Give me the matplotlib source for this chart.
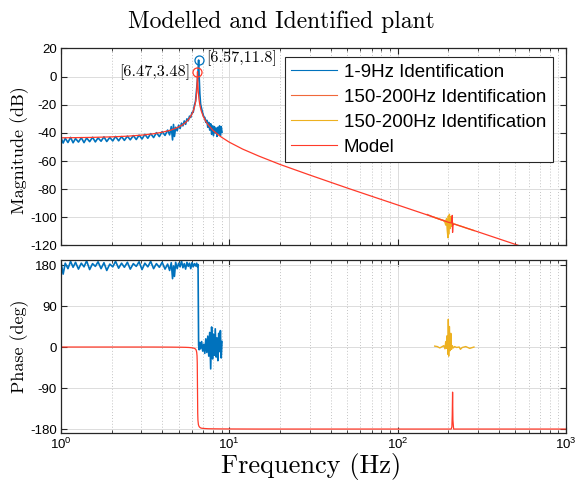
import matplotlib
matplotlib.use("Agg")
import matplotlib.pyplot as plt
from matplotlib.ticker import LogLocator, NullFormatter

plt.rcParams['font.family'] = ['Liberation Sans', 'DejaVu Sans']
plt.rcParams['axes.unicode_minus'] = False
plt.rcParams['mathtext.fontset'] = 'custom'
plt.rcParams['mathtext.rm'] = 'Liberation Sans'
plt.rcParams['mathtext.it'] = 'Liberation Sans:italic'

# 1-9 Hz identification
id_freq = [1.00, 1.03, 1.06, 1.1, 1.14, 1.18, 1.22, 1.27, 1.32, 1.37,
           1.42, 1.48, 1.54, 1.6, 1.66, 1.73, 1.8, 1.87, 1.95, 2.03,
           2.11, 2.2, 2.29, 2.38, 2.48, 2.58, 2.69, 2.8, 2.91, 3.03,
           3.15, 3.28, 3.41, 3.55, 3.69, 3.84, 3.99, 4.15, 4.3, 4.42,
           4.52, 4.6, 4.66, 4.72, 4.8, 4.9, 5.0, 5.1, 5.2, 5.3,
           5.4, 5.5, 5.6, 5.7, 5.8, 5.9, 6.0, 6.1, 6.2, 6.3,
           6.4, 6.46, 6.52, 6.57, 6.62, 6.68, 6.75, 6.85, 6.95, 7.05,
           7.15, 7.25, 7.35, 7.45, 7.55, 7.65, 7.75, 7.85, 7.95, 8.05,
           8.15, 8.25, 8.35, 8.45, 8.55, 8.65, 8.75, 8.85, 8.95, 9.05]
id_mag = [-43.5, -47.2, -43.8, -46.8, -43.2, -47.0, -44.0, -46.5, -43.4, -46.9,
          -43.6, -46.2, -43.1, -46.4, -43.5, -45.9, -42.8, -46.1, -43.2, -45.7,
          -42.5, -45.6, -42.6, -45.3, -42.3, -44.9, -41.9, -44.7, -41.6, -44.3,
          -41.0, -43.8, -40.5, -43.3, -39.8, -42.6, -39.1, -41.8, -38.0, -41.4,
          -35.5, -45.0, -34.0, -42.5, -36.0, -38.5, -34.5, -36.9, -33.1, -35.0,
          -31.5, -33.9, -30.0, -31.4, -28.1, -29.0, -25.5, -25.4, -20.5, -17.5,
          -8.5, -3.0, 4.0, 11.8, 0.0, -12.0, -19.5, -23.0, -26.0, -28.5,
          -29.0, -32.5, -31.0, -36.0, -32.5, -38.0, -33.5, -41.0, -35.0, -42.0,
          -35.5, -40.0, -36.5, -42.5, -36.0, -40.5, -35.0, -42.0, -35.5, -39.5]
id_phase = [186, 160, 184, 172, 188, 175, 186, 171, 184, 176,
            189, 170, 183, 177, 187, 172, 185, 168, 182, 176,
            188, 173, 184, 175, 186, 171, 183, 177, 187, 170,
            184, 176, 188, 172, 183, 175, 186, 171, 182, 168,
            185, 150, 178, 155, 186, 172, 184, 176, 189, 174,
            183, 171, 186, 177, 184, 172, 185, 176, 183, 178,
            184, 176, 181, 4, -6, 10, -4, 12, -9, 6,
            -14, 18, -12, 24, -20, 32, -48, 44, -26, 28,
            -18, 40, -22, 20, -30, 30, -10, 36, -24, 12]

# 150-200 Hz identification (two runs)
hf1_freq = [150, 160, 170, 180, 190, 200]
hf1_mag = [-98.0, -99.4, -100.5, -101.6, -102.4, -103.3]

hf2_freq = [166, 172, 178, 184, 188, 191, 193, 195, 197, 199, 200, 201, 203,
            205, 207, 209, 211, 214, 218, 224, 232, 236, 242, 254, 268, 284]
hf2_mag = [-100.1, -100.7, -101.3, -101.9, -102.5, -103.5, -105.5, -101.0, -109.0,
           -114.5, -99.0, -112.0, -97.8, -108.0, -99.5, -106.5, -103.0, -104.8,
           -104.8, -105.3, -105.9, -106.2, -106.6, -107.5, -108.4, -109.4]
hf2_phase = [2, 1, -2, 1, 3, -4, 12, -3, 25, -16, 61, -20, 45,
             -8, 30, -5, 3, -2, 1, -1, 0, -5, -1, 1, -3, 0]

# model
model_freq = [1, 1.5, 2, 2.5, 3, 3.5, 4, 4.5, 5, 5.25, 5.5, 5.75, 6, 6.1, 6.2,
              6.25, 6.3, 6.35, 6.4, 6.43, 6.45, 6.47, 6.49, 6.51, 6.55, 6.6,
              6.65, 6.7, 6.8, 7, 7.25, 7.5, 8, 8.5, 9, 10, 12, 15, 20, 30, 50,
              70, 100, 150, 200, 208, 210, 211, 212, 213, 215, 220, 300, 500,
              700, 1000]
model_mag = [-43.5, -43.2, -42.8, -42.3, -41.6, -40.7, -39.5, -38.0, -35.8, -34.4,
             -32.6, -30.2, -26.6, -24.6, -21.9, -20.2, -18.0, -15.0, -10.5, -6.0,
             -1.3, 3.48, -1.3, -6.1, -11.6, -15.9, -18.7, -20.9, -24.1, -28.3,
             -31.9, -34.4, -38.2, -40.9, -43.1, -46.6, -51.5, -56.5, -62.4, -69.9,
             -79.1, -85.0, -91.2, -98.3, -103.5, -104.0, -101.5, -98.6, -110.7,
             -106.0, -104.6, -105.0, -110.3, -119.2, -125.1, -131.3]
model_phase = [0, 0, 0, 0, 0, 0, -0.1, -0.2, -0.4, -0.5, -0.7, -1.0, -1.7, -2.2,
               -2.9, -3.6, -4.7, -6.6, -11.3, -19.4, -35.2, -90, -144.8, -160.6,
               -170, -173.9, -175.6, -176.7, -178, -178.6, -179, -179.3, -179.5,
               -179.6, -179.7, -179.8, -179.9, -180, -180, -180, -180, -180, -180,
               -180, -180, -180, -175, -150, -99, -160, -180, -180, -180, -180,
               -180, -180]

peak_model = (6.47, 3.48)
peak_id = (6.57, 11.8)

c_id = '#0072BD'
c_hf1 = '#F0683A'
c_hf2 = '#EDB120'
c_model = '#FF3A2A'
serif = 'cmr10'

fig = plt.figure(figsize=(5.77, 4.82), dpi=100)
ax1 = fig.add_axes([0.1057, 0.4907, 0.8752, 0.4087])
ax2 = fig.add_axes([0.1057, 0.1023, 0.8752, 0.3583])

ax1.semilogx(id_freq, id_mag, color=c_id, lw=1.2, label='1-9Hz Identification')
ax1.semilogx(hf1_freq, hf1_mag, color=c_hf1, lw=1.0, label='150-200Hz Identification')
ax1.semilogx(hf2_freq, hf2_mag, color=c_hf2, lw=1.0, label='150-200Hz Identification')
ax1.semilogx(model_freq, model_mag, color=c_model, lw=0.9, label='Model')
ax1.plot(*peak_id, 'o', mfc='none', mec=c_id, ms=6.5, mew=0.9)
ax1.plot(*peak_model, 'o', mfc='none', mec=c_model, ms=6.5, mew=0.9)
ax1.text(7.3, 13.0, '[6.57,11.8]', family=serif, fontsize=11.7, ha='left', va='center')
ax1.text(5.85, 3.0, '[6.47,3.48]', family=serif, fontsize=11.7, ha='right', va='center')

ax2.semilogx(id_freq, id_phase, color=c_id, lw=1.2)
ax2.semilogx(hf2_freq, hf2_phase, color=c_hf2, lw=1.0)
ax2.semilogx(model_freq, model_phase, color=c_model, lw=0.9)

ax1.set_ylim(-120, 20)
ax1.set_yticks(range(-120, 21, 20))
ax2.set_ylim(-188, 191)
ax2.set_yticks([-180, -90, 0, 90, 180])

for ax in (ax1, ax2):
    ax.set_xlim(1, 1000)
    ax.xaxis.set_major_locator(LogLocator(base=10, numticks=10))
    ax.xaxis.set_minor_locator(LogLocator(base=10, subs=range(2, 10), numticks=20))
    ax.xaxis.set_minor_formatter(NullFormatter())
    ax.grid(True, which='major', color='#dcdcdc', lw=0.7, ls='-')
    ax.grid(True, which='minor', axis='x', color='#c4c4c4', lw=0.7, ls=(0, (1, 2)))
    ax.set_axisbelow(True)
    ax.tick_params(which='both', direction='in', top=True, right=True,
                   labelsize=9.5, color='#262626', pad=3)
    ax.tick_params(which='major', length=4)
    ax.tick_params(which='minor', length=2.5)
    for s in ax.spines.values():
        s.set_color('#262626')
        s.set_linewidth(0.9)
ax1.tick_params(labelbottom=False)

leg = ax1.legend(loc='upper right', bbox_to_anchor=(0.974, 0.957), borderaxespad=0,
                 fontsize=13.5, handlelength=2.45, labelspacing=0.42, fancybox=False,
                 framealpha=1, edgecolor='#262626', borderpad=0.35, handletextpad=0.35)
leg.get_frame().set_linewidth(0.8)
for ln in leg.get_lines():
    ln.set_linewidth(0.8)

fig.text(0.488, 1 - 22 / 482, 'Modelled and Identified plant', family=serif,
         fontsize=17, ha='center', va='center')
fig.text(20 / 577, 1 - 150 / 482, 'Magnitude (dB)', family=serif, fontsize=13,
         rotation=90, ha='center', va='center')
fig.text(20 / 577, 1 - 346 / 482, 'Phase (deg)', family=serif, fontsize=13,
         rotation=90, ha='center', va='center')
fig.text(311 / 577, 1 - 466 / 482, 'Frequency (Hz)', family=serif, fontsize=19,
         ha='center', va='center')

fig.savefig('out.png', dpi=100)
